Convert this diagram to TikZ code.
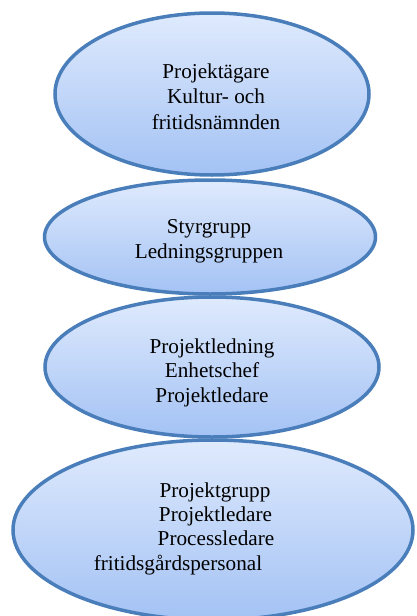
\documentclass[tikz,border=0pt]{standalone}
\usepackage{fontspec}
\setmainfont{Liberation Serif}
\definecolor{ellline}{HTML}{4A7EBB}
\definecolor{elltop}{HTML}{DFEAFD}
\definecolor{ellbot}{HTML}{A3C2F4}
\tikzset{
  ell/.style={ellipse, draw=ellline, line width=3.5pt, top color=elltop, bottom color=ellbot, inner sep=0pt},
  txt/.style={align=center, font=\fontsize{21.2pt}{25.5pt}\selectfont, inner sep=0pt, anchor=base}
}
\usetikzlibrary{shapes.geometric}
\begin{document}
\begin{tikzpicture}[x=1pt,y=-1pt]
\useasboundingbox (0,0) rectangle (417,616);
\fill[white] (0,0) rectangle (417,616);
\node[ell, minimum width=314pt, minimum height=162pt] (e1) at (212,94) {};
\node[ell, minimum width=331pt, minimum height=114pt] (e2) at (210,237) {};
\node[ell, minimum width=334pt, minimum height=140pt] (e3) at (212,367) {};
\node[ell, minimum width=400pt, minimum height=180pt] (e4) at (213,530) {};
\node[txt] (t1a) at (216,78) {Projektägare};
\node[txt] (t1b) at (216,103) {Kultur- och};
\node[txt] (t1c) at (216,129) {fritidsnämnden};
\node[txt] (t2a) at (209,233) {Styrgrupp};
\node[txt] (t2b) at (209,258) {Ledningsgruppen};
\node[txt] (t3a) at (212,353) {Projektledning};
\node[txt] (t3b) at (212,377) {Enhetschef};
\node[txt] (t3c) at (212,402) {Projektledare};
\node[txt] (t4a) at (215,497) {Projektgrupp};
\node[txt] (t4b) at (215.5,521) {Projektledare};
\node[txt] (t4c) at (216,545) {Processledare};
\node[txt] (t4d) at (178,570) {fritidsgårdspersonal};
\end{tikzpicture}
\end{document}
